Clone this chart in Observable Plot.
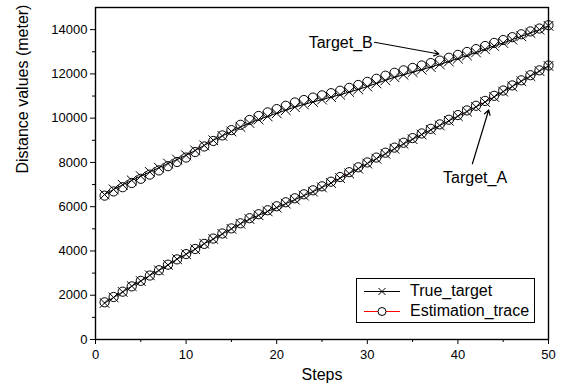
<!DOCTYPE html>
<html>
<head>
<meta charset="utf-8">
<script src="https://cdn.jsdelivr.net/npm/d3@7"></script>
<script src="https://cdn.jsdelivr.net/npm/@observablehq/plot@0.6"></script>
<style>
  html, body { margin: 0; padding: 0; background: white; }
  #wrap { position: relative; width: 562px; height: 390px; font-family: "Liberation Sans", Arial, sans-serif; }
  #legend { position: absolute; left: 356px; top: 278px; width: 177px; height: 43px; border: 1px solid black; background: white; font-size: 16px; }
  #legend .row { position: absolute; left: 0; height: 20px; display: flex; align-items: center; }
  #legend svg { display: block; }
  #legend span { margin-left: 8px; white-space: nowrap; }
</style>
</head>
<body>
<div id="wrap"></div>
<script>
const steps = [1,2,3,4,5,6,7,8,9,10,11,12,13,14,15,16,17,18,19,20,21,22,23,24,25,26,27,28,29,30,31,32,33,34,35,36,37,38,39,40,41,42,43,44,45,46,47,48,49,50];

const trueA = [1650,1900,2150,2410,2640,2900,3120,3370,3630,3850,4080,4330,4540,4770,5000,5230,5440,5610,5790,5960,6140,6320,6500,6680,6870,7070,7290,7500,7720,7950,8170,8390,8620,8840,9050,9260,9470,9670,9880,10090,10300,10510,10730,10960,11200,11430,11670,11900,12130,12360];
const estA = [1680,1920,2160,2400,2650,2890,3130,3380,3620,3860,4090,4320,4560,4790,5020,5250,5480,5660,5840,6020,6200,6380,6560,6740,6920,7130,7340,7560,7780,8000,8220,8440,8670,8890,9100,9310,9520,9720,9930,10140,10350,10560,10780,11010,11250,11480,11710,11940,12160,12380];
const trueB = [6550,6780,6990,7190,7380,7570,7760,7950,8130,8320,8540,8770,9000,9200,9400,9600,9780,9940,10080,10220,10360,10500,10620,10730,10840,10950,11060,11180,11300,11430,11570,11710,11850,11960,12080,12190,12310,12430,12560,12690,12830,12970,13110,13260,13400,13550,13700,13850,14000,14170];
const estB = [6500,6690,6880,7070,7260,7450,7640,7830,8020,8220,8470,8720,8970,9220,9460,9700,9920,10100,10260,10410,10560,10710,10820,10930,11030,11130,11240,11370,11500,11640,11780,11920,12050,12160,12270,12380,12490,12600,12730,12860,12990,13120,13260,13400,13530,13660,13790,13920,14050,14200];

const xTicks = [0,10,20,30,40,50];
const xMinor = [5,15,25,35,45];
const yTicks = [0,2000,4000,6000,8000,10000,12000,14000];
const yMinor = [1000,3000,5000,7000,9000,11000,13000];

const labelNames = ["Target_B", "Target_A"];
const labelSteps = [30.6, 41.9];
const labelValues = [13420, 7300];
const labelAnchors = ["end", "middle"];
const arrowFromSteps = [30.8, 41.6];
const arrowFromValues = [13430, 7940];
const arrowToSteps = [37.9, 43.4];
const arrowToValues = [12900, 10370];

const legendNames = ["True_target", "Estimation_trace"];

const rows = (vals, target) => steps.map((s, i) => ({step: s, value: vals[i], target}));
const trueData = [...rows(trueA, "A"), ...rows(trueB, "B")];
const estData = [...rows(estA, "A"), ...rows(estB, "B")];
const labels = labelNames.map((n, i) => ({name: n, step: labelSteps[i], value: labelValues[i], anchor: labelAnchors[i]}));
const arrows = labelNames.map((n, i) => ({x1: arrowFromSteps[i], y1: arrowFromValues[i], x2: arrowToSteps[i], y2: arrowToValues[i]}));

const chart = Plot.plot({
  width: 562, height: 390,
  marginLeft: 95, marginRight: 14, marginTop: 7, marginBottom: 51,
  x: {domain: [0, 50]},
  y: {domain: [0, 15000]},
  style: {fontFamily: "'Liberation Sans', Arial, sans-serif", fontSize: "13px", color: "black", background: "white"},
  marks: [
    Plot.axisY(yTicks, {tickSize: 5, tickPadding: 3, tickFormat: d => String(d), label: null, fontSize: 13}),
    Plot.axisY(yMinor, {tickSize: 3, tickFormat: () => "", label: null}),
    Plot.axisX(xTicks, {tickSize: 5, tickPadding: 5, tickFormat: d => String(d), label: null, fontSize: 13}),
    Plot.axisX(xMinor, {tickSize: 3, tickFormat: () => "", label: null}),
    Plot.text(["Distance values (meter)"], {frameAnchor: "left", dx: -73, rotate: -90, fontSize: 16}),
    Plot.text(["Steps"], {frameAnchor: "bottom", dy: 40, fontSize: 16}),
    Plot.line(estData, {x: "step", y: "value", z: "target", stroke: "red", strokeWidth: 1}),
    Plot.dot(estData, {x: "step", y: "value", symbol: "circle", r: 4.6, fill: "white", stroke: "black", strokeWidth: 1}),
    Plot.line(trueData, {x: "step", y: "value", z: "target", stroke: "black", strokeWidth: 1}),
    Plot.dot(trueData, {x: "step", y: "value", symbol: "times", r: 4.5, stroke: "black", strokeWidth: 1}),
    Plot.text(labels.filter(d => d.anchor === "end"), {x: "step", y: "value", text: "name", textAnchor: "end", fontSize: 16}),
    Plot.text(labels.filter(d => d.anchor === "middle"), {x: "step", y: "value", text: "name", textAnchor: "middle", fontSize: 16}),
    Plot.arrow(arrows, {x1: "x1", y1: "y1", x2: "x2", y2: "y2", stroke: "black", strokeWidth: 1.2, headLength: 7}),
    Plot.frame({stroke: "black", strokeWidth: 1.4})
  ]
});

const wrap = document.getElementById("wrap");
wrap.appendChild(chart);

const legend = document.createElement("div");
legend.id = "legend";
const symbols = [
  `<line x1="2" y1="10.5" x2="38" y2="10.5" stroke="black"/><path d="M16.5,7L23.5,14M16.5,14L23.5,7" stroke="black" fill="none"/>`,
  `<line x1="2" y1="10.5" x2="38" y2="10.5" stroke="#ff0000"/><circle cx="20" cy="10.5" r="4" fill="white" stroke="black"/>`
];
legendNames.forEach((name, i) => {
  const row = document.createElement("div");
  row.className = "row";
  row.style.top = (2 + i * 20) + "px";
  row.style.left = "5px";
  row.innerHTML = `<svg width="40" height="20">${symbols[i]}</svg><span>${name}</span>`;
  legend.appendChild(row);
});
wrap.appendChild(legend);
</script>
</body>
</html>
